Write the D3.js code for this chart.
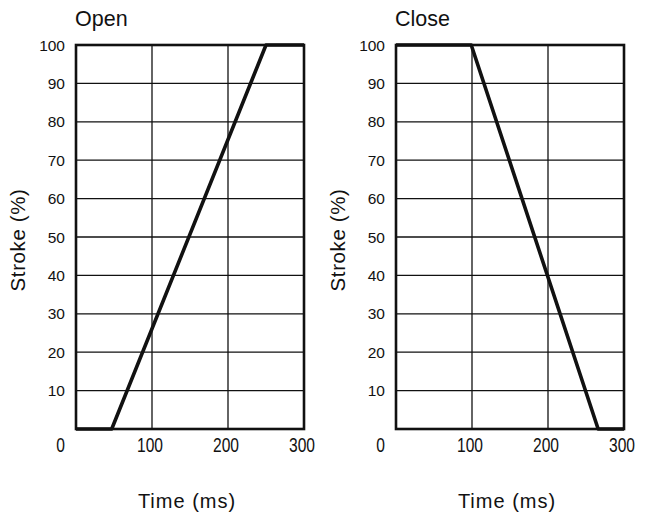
<!DOCTYPE html>
<html>
<head>
<meta charset="utf-8">
<script src="https://cdn.jsdelivr.net/npm/d3@7"></script>
<style>
    body { margin: 0; background: #fff; }
    svg { display: block; }
    text { font-family: "Liberation Sans", Arial, sans-serif; fill: #111; }
</style>
</head>
<body>
<svg width="650" height="517"></svg>
<script>
// values (time in ms, stroke in %)
const openTime = [0, 47, 250, 300];
const openStroke = [0, 0, 100, 100];
const closeTime = [0, 99, 266, 300];
const closeStroke = [100, 100, 0, 0];

const panelTitles = ["Open", "Close"];
const yTickValues = [10, 20, 30, 40, 50, 60, 70, 80, 90, 100];
const xTickValues = [100, 200, 300];

const svg = d3.select("svg");

function drawPanel(left, title, times, strokes) {
    const x = d3.scaleLinear().domain([0, 300]).range([left, left + 228]);
    const y = d3.scaleLinear().domain([0, 100]).range([429, 45]);
    const g = svg.append("g");

    // grid
    g.selectAll(".vgrid")
        .data(xTickValues.slice(0, -1))
        .enter().append("line")
        .attr("x1", d => x(d)).attr("x2", d => x(d))
        .attr("y1", y(0)).attr("y2", y(100))
        .style("stroke", "#111")
        .style("stroke-width", 1.3);

    g.selectAll(".hgrid")
        .data(yTickValues.slice(0, -1))
        .enter().append("line")
        .attr("x1", x(0)).attr("x2", x(300))
        .attr("y1", d => y(d)).attr("y2", d => y(d))
        .style("stroke", "#111")
        .style("stroke-width", 1.3);

    // frame
    g.append("rect")
        .attr("x", x(0)).attr("y", y(100))
        .attr("width", x(300) - x(0)).attr("height", y(0) - y(100))
        .style("fill", "none")
        .style("stroke", "#111")
        .style("stroke-width", 2.6);

    // y tick labels
    g.selectAll(".ytick")
        .data(yTickValues)
        .enter().append("text")
        .attr("x", x(0) - 11)
        .attr("y", d => y(d))
        .attr("dy", "0.36em")
        .attr("text-anchor", "end")
        .style("font-size", "15.5px")
        .text(d => d);

    // shared origin label (narrowed like the scan)
    g.append("text")
        .attr("transform", `translate(${x(0) - 11},452) scale(0.78,1)`)
        .attr("text-anchor", "end")
        .style("font-size", "20px")
        .text("0");

    // x tick labels
    g.selectAll(".xt")
        .data(xTickValues)
        .enter().append("text")
        .attr("transform", d => `translate(${x(d) - 2},452) scale(0.78,1)`)
        .attr("text-anchor", "middle")
        .style("font-size", "20px")
        .text(d => d);

    // curve
    const line = d3.line()
        .x((d, i) => x(times[i]))
        .y(d => y(d));

    g.append("path")
        .datum(strokes)
        .attr("d", line)
        .style("fill", "none")
        .style("stroke", "#111")
        .style("stroke-width", 3.6)
        .style("stroke-linejoin", "round");

    // titles
    g.append("text")
        .attr("x", x(0) - 1)
        .attr("y", 26)
        .style("font-size", "21.5px")
        .text(title);

    g.append("text")
        .attr("transform", `translate(${left - 51},${y(50) + 3}) rotate(-90)`)
        .attr("text-anchor", "middle")
        .style("font-size", "20.5px")
        .style("letter-spacing", "0.6px")
        .text("Stroke (%)");

    g.append("text")
        .attr("x", x(150) - 3)
        .attr("y", 508)
        .attr("text-anchor", "middle")
        .style("font-size", "20px")
        .style("letter-spacing", "1px")
        .text("Time (ms)");
}

drawPanel(76, panelTitles[0], openTime, openStroke);
drawPanel(396, panelTitles[1], closeTime, closeStroke);
</script>
</body>
</html>
